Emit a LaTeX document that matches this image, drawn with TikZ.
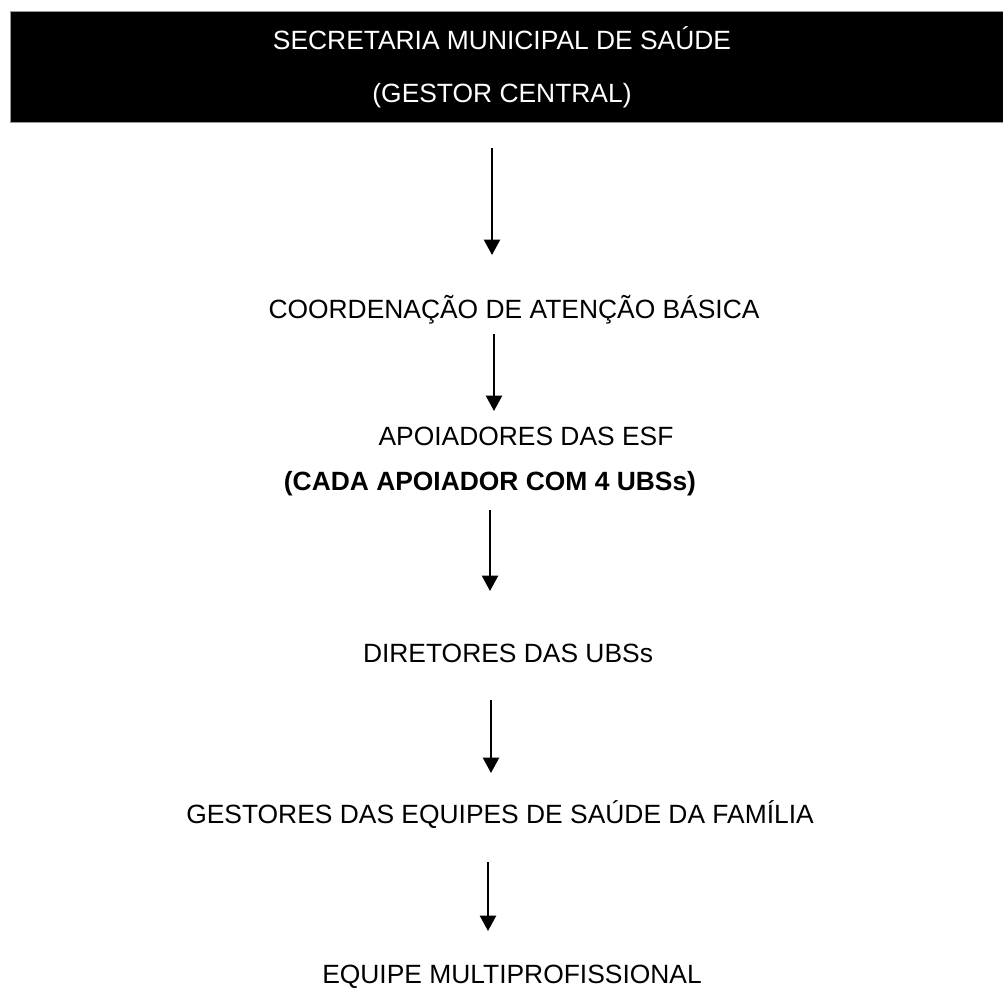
\documentclass[tikz,border=0pt]{standalone}
\usepackage{fontspec}
\setmainfont{Liberation Sans}
\usetikzlibrary{arrows.meta}

\begin{document}
\begin{tikzpicture}[x=0.75pt,y=0.75pt,yscale=-1,xscale=1,
  txt/.style={inner sep=0.75pt,font=\fontsize{19.8}{23}\selectfont},
  seta/.style={line width=1.7pt,-{Triangle[width=12pt,length=11.5pt]}}]
%set diagram left start at 0, and has height of 990
\useasboundingbox (0,0) rectangle (1003,990);

% Banner
\draw[fill=black,draw=black!40,line width=0.6pt] (10,11) rectangle (1003,122);
% Text Node
\draw (502,38) node [txt,text=white] (sms) {SECRETARIA MUNICIPAL DE SAÚDE};
% Text Node
\draw (502,96) node [txt,text=white] (gestor) {(GESTOR CENTRAL)};
% Text Node
\draw (514,310) node [txt] (coord) {COORDENAÇÃO DE ATENÇÃO BÁSICA};
% Text Node
\draw (526,436) node [txt] (apoio) {APOIADORES DAS ESF};
% Text Node
\draw (490,484) node [txt,font=\fontsize{19.8}{23}\selectfont\bfseries] (cada) {(CADA APOIADOR COM 4 UBSs)};
% Text Node
\draw (508,653) node [txt] (diret) {DIRETORES DAS UBSs};
% Text Node
\draw (500,815) node [txt] (gest) {GESTORES DAS EQUIPES DE SAÚDE DA FAMÍLIA};
% Text Node
\draw (512,977) node [txt] (equipe) {EQUIPE MULTIPROFISSIONAL};

% Arrow ends
\coordinate (a1) at (492,148);  \coordinate (b1) at (492,255);
\coordinate (a2) at (494,334);  \coordinate (b2) at (494,411);
\coordinate (a3) at (490,510);  \coordinate (b3) at (490,591);
\coordinate (a4) at (491,700);  \coordinate (b4) at (491,773);
\coordinate (a5) at (488,862);  \coordinate (b5) at (488,931);

% Arrows
\foreach \i in {1,...,5}
  \draw [seta] (a\i) -- (b\i);

\end{tikzpicture}
\end{document}
